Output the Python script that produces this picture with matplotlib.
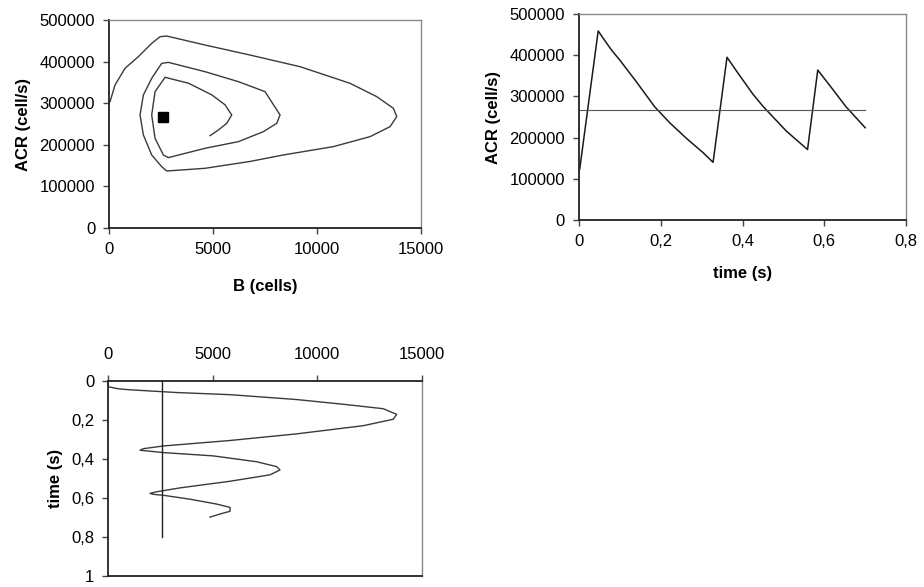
import matplotlib
matplotlib.use("Agg")
import matplotlib.pyplot as plt
from matplotlib.ticker import FuncFormatter

plt.rcParams["font.family"] = ["Liberation Sans", "DejaVu Sans"]
plt.rcParams["font.size"] = 12

# phase plane: buffer B (cells) vs ACR (cell/s)
phase_b = [48, 288, 769, 1410, 2051, 2452, 2773, 4615, 6779, 9183, 11587,
           12869, 13670, 13830, 13510, 12548, 10785, 8381, 6779, 4615, 2773,
           2532, 2051, 1651, 1490, 1651, 2051, 2532, 2853, 4615, 6218, 7500,
           8221, 8061, 7420, 6218, 4615, 2853, 2612, 2212, 2051, 2212, 2693,
           3814, 4936, 5577, 5898, 5657, 5257, 4856]
phase_acr = [303700, 343800, 383900, 411900, 443900, 459900, 461500, 439900,
             415800, 387800, 347800, 315800, 287800, 267700, 243600, 219600,
             195600, 175600, 160000, 143500, 137000, 147500, 175500, 223600,
             271700, 319700, 359800, 395800, 398200, 375800, 351800, 327800,
             271700, 251600, 231600, 207600, 191600, 169200, 175600, 215600,
             271700, 327800, 362200, 348200, 320200, 296100, 271700, 251600,
             235600, 222000]

# equilibrium point
eq_b = 2600
eq_acr = 267000

# ACR over time
t_acr = [0.0, 0.002, 0.047, 0.06, 0.08, 0.1, 0.14, 0.185, 0.222, 0.263,
         0.303, 0.328, 0.362, 0.385, 0.425, 0.45, 0.507, 0.559, 0.584, 0.62,
         0.653, 0.70]
acr = [118000, 125000, 459000, 440000, 412000, 388000, 336000, 275000, 236000,
       198000, 164000, 140000, 395000, 362000, 306000, 276000, 216000, 171000,
       364000, 318000, 275000, 224000]
t_ref = [0.0, 0.70]

# buffer over time
t_b = [0.0, 0.029, 0.04, 0.045, 0.049, 0.059, 0.07, 0.095, 0.121, 0.142,
       0.171, 0.196, 0.229, 0.271, 0.305, 0.333, 0.347, 0.355, 0.36, 0.367,
       0.384, 0.414, 0.439, 0.456, 0.481, 0.514, 0.548, 0.568, 0.576, 0.581,
       0.586, 0.606, 0.631, 0.648, 0.668, 0.682, 0.698]
b = [0, 0, 500, 1051, 1688, 3280, 5828, 9012, 11400, 13152, 13789, 13630,
     12197, 9012, 5828, 2643, 1688, 1529, 2006, 2643, 5032, 7102, 8057, 8216,
     7739, 5828, 3439, 2324, 2006, 2165, 2643, 3917, 5191, 5828, 5828, 5350,
     4873]
t_eq = [0.0, 0.8]


def comma(x, pos):
    return f"{x:g}".replace(".", ",")


def frame(ax, dark=("left", "bottom")):
    for side in ["top", "right", "left", "bottom"]:
        if side in dark:
            ax.spines[side].set_color("#222222")
            ax.spines[side].set_linewidth(1.3)
        else:
            ax.spines[side].set_color("#888888")
            ax.spines[side].set_linewidth(1.0)
    ax.tick_params(direction="out", length=4, width=1, color="#444444",
                   labelsize=12, pad=6)


fig = plt.figure(figsize=(9.24, 5.87), dpi=100)

# top left: phase plane
ax1 = fig.add_axes([0.118, 0.6116, 0.3377, 0.3543])
ax1.plot(phase_b, phase_acr, color="#3a3a3a", lw=1.0)
ax1.plot([eq_b], [eq_acr], marker="s", color="black", ms=7, ls="none")
ax1.set_xlim(0, 15000)
ax1.set_ylim(0, 500000)
ax1.set_xticks([0, 5000, 10000, 15000])
ax1.set_yticks(range(0, 500001, 100000))
ax1.set_xlabel("B (cells)", fontweight="bold", labelpad=16)
ax1.set_ylabel("ACR (cell/s)", fontweight="bold", labelpad=6)
frame(ax1)

# top right: ACR vs time
ax2 = fig.add_axes([0.6266, 0.6252, 0.354, 0.3509])
ax2.plot(t_acr, acr, color="#1a1a1a", lw=1.1)
ax2.plot(t_ref, [eq_acr, eq_acr], color="#555555", lw=0.8)
ax2.set_xlim(0, 0.8)
ax2.set_ylim(0, 500000)
ax2.set_xticks([0, 0.2, 0.4, 0.6, 0.8])
ax2.set_yticks(range(0, 500001, 100000))
ax2.xaxis.set_major_formatter(FuncFormatter(comma))
ax2.set_xlabel("time (s)", fontweight="bold", labelpad=12)
ax2.set_ylabel("ACR (cell/s)", fontweight="bold", labelpad=6)
frame(ax2)

# bottom: buffer vs time, time axis downwards
ax3 = fig.add_axes([0.1169, 0.0187, 0.3398, 0.3322])
ax3.plot(b, t_b, color="#3a3a3a", lw=1.0)
ax3.plot([eq_b, eq_b], t_eq, color="#222222", lw=1.0)
ax3.set_xlim(0, 15000)
ax3.set_ylim(1, 0)
ax3.set_xticks([0, 5000, 10000, 15000])
ax3.set_yticks([0, 0.2, 0.4, 0.6, 0.8, 1])
ax3.yaxis.set_major_formatter(FuncFormatter(comma))
ax3.xaxis.tick_top()
ax3.set_ylabel("time (s)", fontweight="bold", labelpad=6)
frame(ax3, dark=("left", "top", "bottom"))
ax3.tick_params(axis="x", pad=10)

fig.savefig("out.png", dpi=100)
